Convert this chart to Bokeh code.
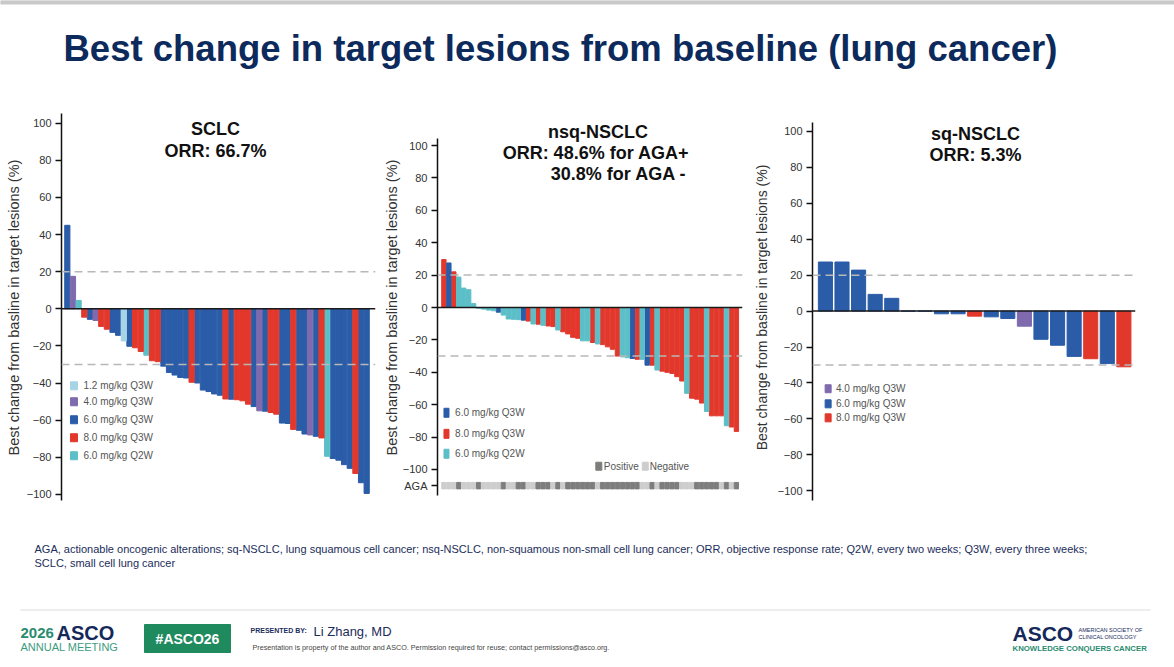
from bokeh.core.properties import value
from bokeh.embed import file_html
from bokeh.layouts import column, row
from bokeh.models import FixedTicker, Label, Span
from bokeh.plotting import figure
from bokeh.resources import INLINE

SANS = "Liberation Sans"
NAVY = "#0c2a5b"

# dose groups (legend categories) and their colours
dose_names = {"L": "1.2 mg/kg Q3W", "P": "4.0 mg/kg Q3W", "B": "6.0 mg/kg Q3W",
              "R": "8.0 mg/kg Q3W", "T": "6.0 mg/kg Q2W"}
dose_colors = {"1.2 mg/kg Q3W": "#a6d4e6", "4.0 mg/kg Q3W": "#7f6aad",
               "6.0 mg/kg Q3W": "#2a5ca8", "8.0 mg/kg Q3W": "#e2382c",
               "6.0 mg/kg Q2W": "#5cbfc8"}

# SCLC: best % change per patient, and dose code per patient
sclc_change = [45, 17.5, 4.5, -4.5, -5.7, -6.3, -9.5, -11, -12.7, -14.3,
               -17.3, -20.2, -21, -23, -25, -28, -28.5, -30.9, -34.3, -35.7,
               -37, -37.3, -39.6, -40, -43.8, -44.6, -45.9, -46.6, -48.6, -48.75,
               -49, -49.6, -51.4, -52.7, -55, -55.2, -55.9, -56.8, -61.6, -61.8,
               -65, -65.5, -67.5, -68, -68.75, -69.6, -79.5, -80.7, -81.6, -84,
               -86, -88.75, -93.75, -99.5]
sclc_dose = "BPTRBPRRBB" "LBRRTRRBBB" "BBRBBBBBRB" "RRRBPBRRBB" "RBBPBRTBBB" "BRBB"
sclc_legend = ["L", "P", "B", "R", "T"]

# nsq-NSCLC
nsq_change = [29.6, 27.5, 22, 18.8, 12, 11, 2.4, -0.5, -1.0, -1.6,
              -2, -2.9, -4.7, -7.1, -7.3, -7.5, -7.8, -8.4, -10.2, -10.3,
              -11, -11.4, -11.8, -13.9, -15, -16.3, -18.4, -19, -20.6, -20.6,
              -21.6, -22.5, -22.9, -24.3, -25.8, -30, -30.5, -31, -31.5, -32,
              -32, -35.6, -35.6, -38.6, -39.3, -40, -40.7, -42.7, -45.4, -53,
              -56, -56.6, -59, -64.2, -66.9, -66.9, -66.9, -73, -73.8, -76.5]
nsq_dose = "RBRTTTTTTT" "TBTTTTBRTR" "TRRTRRRRTT" "RTRRRRTTBR" "TBRTRRRRRT" "RRRTRRRTRR"
nsq_aga = "NNNPNNNPNN" "NNPNNPPNNP" "PPNPNPPPPP" "PNPPPPPPPP" "NNPNPPPPNN" "NPPPPPNPNP"
nsq_legend = ["B", "R", "T"]
aga_names = {"P": "Positive", "N": "Negative"}
aga_colors = {"Positive": "#7d7d7d", "Negative": "#cdcdcd"}

# sq-NSCLC
sq_change = [27.3, 27.3, 22.8, 9.3, 7.1, 0, 0, -1.5, -1.5, -2.8,
             -3.2, -4.1, -8.4, -15.7, -19, -25.2, -26.5, -29.2, -31]
sq_dose = "BBBBBBBBBRBBPBBBRBR"
sq_legend = ["P", "B", "R"]

y_ticks = list(range(-100, 101, 20))


def panel(width, x_range, y_range, bounds, left, right, ticks, label_size, label_standoff):
    # all three panels share top/bottom borders (a row aligns them anyway)
    p = figure(width=width, height=410, x_range=x_range, y_range=y_range, title=None,
               x_axis_location=None, toolbar_location=None, output_backend="svg",
               min_border_left=left, min_border_right=right,
               min_border_top=12, min_border_bottom=8)
    p.grid.visible = False
    p.outline_line_color = None
    ax = p.yaxis[0]
    ax.bounds = bounds
    ax.ticker = FixedTicker(ticks=ticks)
    ax.axis_label = "Best change from basline in target lesions (%)"
    ax.axis_label_text_font = SANS
    ax.axis_label_text_font_size = label_size
    ax.axis_label_text_font_style = "normal"
    ax.axis_label_text_color = "#333333"
    ax.axis_label_standoff = label_standoff
    ax.major_label_text_font = SANS
    ax.major_label_text_font_size = "11px"
    ax.major_label_text_color = "#333333"
    ax.major_label_standoff = 4
    ax.axis_line_width = 1.5
    ax.axis_line_color = "#111111"
    ax.major_tick_line_width = 1.5
    ax.major_tick_line_color = "#111111"
    ax.major_tick_out = 6
    ax.major_tick_in = 0
    ax.minor_tick_line_color = None
    # thresholds +20 % and -30 %, and the zero line
    for loc in (20, -30):
        p.add_layout(Span(location=loc, dimension="width", line_color="#b8b8b8",
                          line_width=1.5, line_dash="8 5"))
    p.add_layout(Span(location=0, dimension="width", line_color="#1a1a1a", line_width=1.5))
    return p


def draw_bars(p, change, codes, width):
    for code in dict.fromkeys(codes):
        xs = [i + 1 for i, c in enumerate(codes) if c == code]
        tops = [change[i] for i, c in enumerate(codes) if c == code]
        p.vbar(x=xs, top=tops, bottom=0, width=width,
               color=dose_colors[dose_names[code]])


def draw_legend(p, names, colors, x_box, x_text, ys, box_w, box_h):
    n = len(names)
    xb = x_box if isinstance(x_box, list) else [x_box] * n
    xt = x_text if isinstance(x_text, list) else [x_text] * n
    p.rect(x=xb, y=ys, width=box_w, height=box_h, width_units="screen",
           height_units="screen", color=colors)
    p.text(x=xt, y=ys, text=names, text_font=value(SANS), text_font_size="10px",
           text_color="#555555", text_baseline="middle")


def titles(p, lines):
    for x, y, txt, align in lines:
        p.add_layout(Label(x=x, y=y, text=txt, text_align=align, text_baseline="middle",
                           text_font=SANS, text_font_size="18px", text_font_style="bold",
                           text_color="#111111"))


# ---- SCLC ----
p1 = panel(380, (-0.03, 55.56), (-104.4, 105.8), (-103.5, 105), 61, 5, y_ticks, "14.5px", 2)
draw_bars(p1, sclc_change, sclc_dose, 0.92)
draw_legend(p1, [dose_names[c] for c in sclc_legend],
            [dose_colors[dose_names[c]] for c in sclc_legend],
            2.18, 3.86, [-41.5, -50.1, -59.8, -69.5, -79.2], 7, 8)
titles(p1, [(27.23, 96.9, "SCLC", "center"), (27.23, 85, "ORR: 66.7%", "center")])

# ---- nsq-NSCLC ----
p2 = panel(370, (-0.29, 61.23), (-120.4, 120.4), (-116, 104.3), 50, 8,
           y_ticks + [-110], "14.5px", 0)
p2.yaxis[0].major_label_overrides = {-110: "AGA"}
draw_bars(p2, nsq_change, nsq_dose, 0.88)
aga_status = [aga_names[c] for c in nsq_aga]
p2.rect(x=list(range(1, len(aga_status) + 1)), y=-110, width=0.86, height=4,
        color=[aga_colors[s] for s in aga_status])
draw_legend(p2, [dose_names[c] for c in nsq_legend],
            [dose_colors[dose_names[c]] for c in nsq_legend],
            1.52, 3.26, [-65, -78, -90.3], 5, 9)
draw_legend(p2, ["Positive", "Negative"], [aga_colors["Positive"], aga_colors["Negative"]],
            [32.25, 41.62], [33.24, 42.51], [-98, -98], 6, 8)
titles(p2, [(32.06, 108.2, "nsq-NSCLC", "center"),
            (31.66, 95.7, "ORR: 48.6% for AGA+", "center"),
            (50.0, 82.7, "30.8% for AGA -", "right")])

# ---- sq-NSCLC ----
p3 = panel(424, (0.221, 19.7), (-106.5, 110.5), (-105.4, 104.9), 55, 39, y_ticks, "14px", 5)
draw_bars(p3, sq_change, sq_dose, 0.85)
draw_legend(p3, [dose_names[c] for c in sq_legend],
            [dose_colors[dose_names[c]] for c in sq_legend],
            1.164, 1.636, [-43.2, -51.6, -59.4], 6, 8)
titles(p3, [(10.05, 98.3, "sq-NSCLC", "center"), (10.05, 86.6, "ORR: 5.3%", "center")])


def blank(height, y_top, y_bottom):
    p = figure(width=1174, height=height, x_range=(0, 1174), y_range=(y_bottom, y_top),
               title=None, x_axis_location=None, y_axis_location=None,
               toolbar_location=None, output_backend="svg", min_border=0)
    p.grid.visible = False
    p.outline_line_color = None
    return p


def put(p, x, y, txt, size, color, bold=False, align="left"):
    p.add_layout(Label(x=x, y=y, text=txt, text_font=SANS, text_font_size=size,
                       text_color=color, text_font_style="bold" if bold else "normal",
                       text_align=align, text_baseline="middle"))


# ---- slide header ----
head = blank(100, 0, 100)
head.quad(left=[0], right=[1174], top=[0], bottom=[3.5], color="#c9c9c9")
put(head, 63, 47.5, "Best change in target lesions from baseline (lung cancer)", "36.5px", NAVY, True)

# ---- footnote and footer ----
foot = blank(157, 510, 667)
put(foot, 34, 548, "AGA, actionable oncogenic alterations; sq-NSCLC, lung squamous cell cancer; "
    "nsq-NSCLC, non-squamous non-small cell lung cancer; ORR, objective response rate; "
    "Q2W, every two weeks; Q3W, every three weeks;", "11px", "#1b2d5a")
put(foot, 34, 562, "SCLC, small cell lung cancer", "11px", "#1b2d5a")
foot.segment(x0=[20], y0=[609.5], x1=[1150], y1=[609.5], line_color="#dcdcdc", line_width=1)
put(foot, 20, 632, "2026", "15px", "#2b8c70", True)
put(foot, 56, 632, "ASCO", "20px", "#14285a", True)
put(foot, 20, 646, "ANNUAL MEETING", "11px", "#3d9b80")
foot.quad(left=[144], right=[230], top=[624], bottom=[652], color="#1f8a5e")
put(foot, 187, 638, "#ASCO26", "14px", "white", True, "center")
put(foot, 250, 629.5, "PRESENTED BY:", "7px", "#1b2d5a", True)
put(foot, 313, 630.5, "Li Zhang, MD", "13px", "#1b2d5a")
put(foot, 252, 646.5, "Presentation is property of the author and ASCO. Permission required for "
    "reuse; contact permissions@asco.org.", "7.2px", "#444444")
put(foot, 1012, 633, "ASCO", "21px", "#14285a", True)
put(foot, 1078, 629, "AMERICAN SOCIETY OF", "5.5px", "#14285a")
put(foot, 1078, 636, "CLINICAL ONCOLOGY", "5.5px", "#14285a")
put(foot, 1012, 648, "KNOWLEDGE CONQUERS CANCER", "7.8px", "#2b8c70", True)

layout = column(head, row(p1, p2, p3), foot)
open("out.html", "w").write(file_html(layout, INLINE))
